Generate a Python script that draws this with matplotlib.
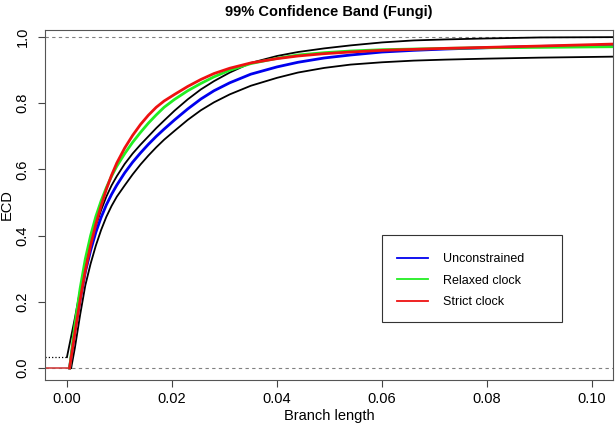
import numpy as np
import matplotlib
matplotlib.use("Agg")
import matplotlib.pyplot as plt
from matplotlib.patches import Rectangle

plt.rcParams['font.family'] = ['Liberation Sans', 'DejaVu Sans']

# branch length grid
x = [0.0005, 0.0015, 0.0025, 0.0035, 0.0045, 0.0055, 0.0065, 0.0075, 0.0085, 0.0095,
     0.011, 0.0125, 0.014, 0.0155, 0.017, 0.0185, 0.0205, 0.023, 0.0255, 0.028,
     0.031, 0.035, 0.040, 0.044, 0.049, 0.054, 0.060, 0.066, 0.072, 0.080,
     0.090, 0.104]

unconstrained = [0.0, 0.11, 0.205, 0.29, 0.355, 0.41, 0.455, 0.493, 0.525, 0.553,
                 0.59, 0.622, 0.65, 0.676, 0.70, 0.722, 0.75, 0.783, 0.813, 0.838,
                 0.862, 0.888, 0.91, 0.924, 0.937, 0.946, 0.955, 0.960, 0.964, 0.968,
                 0.972, 0.975]
relaxed = [0.0, 0.13, 0.24, 0.33, 0.40, 0.458, 0.505, 0.545, 0.58, 0.61,
           0.648, 0.682, 0.712, 0.74, 0.765, 0.788, 0.812, 0.838, 0.86, 0.88,
           0.90, 0.92, 0.936, 0.946, 0.953, 0.958, 0.962, 0.964, 0.966, 0.968,
           0.969, 0.971]
strict = [0.0, 0.105, 0.205, 0.295, 0.37, 0.435, 0.49, 0.54, 0.583, 0.62,
          0.665, 0.703, 0.736, 0.764, 0.788, 0.807, 0.827, 0.851, 0.872, 0.89,
          0.906, 0.922, 0.935, 0.943, 0.950, 0.955, 0.960, 0.963, 0.966, 0.969,
          0.973, 0.979]

# 99% confidence band
upper_x = [0.0] + x[1:]
upper = [0.033, 0.15, 0.235, 0.31, 0.375, 0.43, 0.477, 0.518, 0.552, 0.58,
         0.617, 0.648, 0.675, 0.70, 0.725, 0.748, 0.778, 0.812, 0.842, 0.867,
         0.893, 0.922, 0.943, 0.955, 0.966, 0.975, 0.984, 0.990, 0.993, 0.996,
         0.999, 1.0]
lower_x = [0.0008] + x[1:]
lower = [0.0, 0.06, 0.16, 0.25, 0.315, 0.37, 0.417, 0.457, 0.49, 0.518,
         0.552, 0.585, 0.615, 0.642, 0.667, 0.69, 0.717, 0.75, 0.779, 0.803,
         0.827, 0.853, 0.877, 0.893, 0.907, 0.917, 0.924, 0.929, 0.932, 0.935,
         0.938, 0.941]

fig = plt.figure(figsize=(6.15, 4.25), dpi=100)
ax = fig.add_axes([0.073, 0.106, 0.924, 0.823])

ax.axhline(0, color='gray', ls='--', lw=0.8, dashes=(3, 3))
ax.axhline(1, color='gray', ls='--', lw=0.8, dashes=(3, 3))

# band / ECDF left of zero
ax.plot([-0.006, 0.0], [upper[0], upper[0]], color='black', ls=':', lw=0.9)
ax.plot([-0.006, 0.0005], [0, 0], color='#d04040', lw=1.2)

ax.plot(upper_x, upper, color='black', lw=1.3)
ax.plot(lower_x, lower, color='black', lw=1.3)
ax.plot(x, unconstrained, color='#0000ee', lw=2, label='Unconstrained')
ax.plot(x, relaxed, color='#22ee22', lw=2, label='Relaxed clock')
ax.plot(x, strict, color='#ee1111', lw=2, label='Strict clock')

ax.set_xlim(-0.0042, 0.104)
ax.set_ylim(-0.036, 1.021)
ax.set_xticks([0.0, 0.02, 0.04, 0.06, 0.08, 0.10])
ax.set_xticklabels(['0.00', '0.02', '0.04', '0.06', '0.08', '0.10'])
ax.set_yticks([0.0, 0.2, 0.4, 0.6, 0.8, 1.0])
ax.set_yticklabels(['0.0', '0.2', '0.4', '0.6', '0.8', '1.0'], rotation=90, va='center')
ax.tick_params(labelsize=10.5, length=5, color='#444444')
ax.tick_params(axis='y', pad=6)
for s in ax.spines.values():
    s.set_color('#555555')

ax.set_xlabel('Branch length', fontsize=10.5, labelpad=2)
ax.set_ylabel('ECD', fontsize=10.5, labelpad=1)
ax.set_title('99% Confidence Band (Fungi)', fontsize=10.5, fontweight='bold', pad=10)

# legend box drawn separately so the padding matches
ax.add_patch(Rectangle((0.593, 0.166), 0.317, 0.248, transform=ax.transAxes,
                       fill=False, edgecolor='#333333', lw=0.8, zorder=5))
leg = ax.legend(loc='upper left', bbox_to_anchor=(0.620, 0.362), fontsize=9,
                frameon=False, handlelength=2.5, handletextpad=1.2,
                borderpad=0, labelspacing=0.75, borderaxespad=0)
for h in leg.get_lines():
    h.set_linewidth(1.3)

fig.savefig('out.png', dpi=100)
